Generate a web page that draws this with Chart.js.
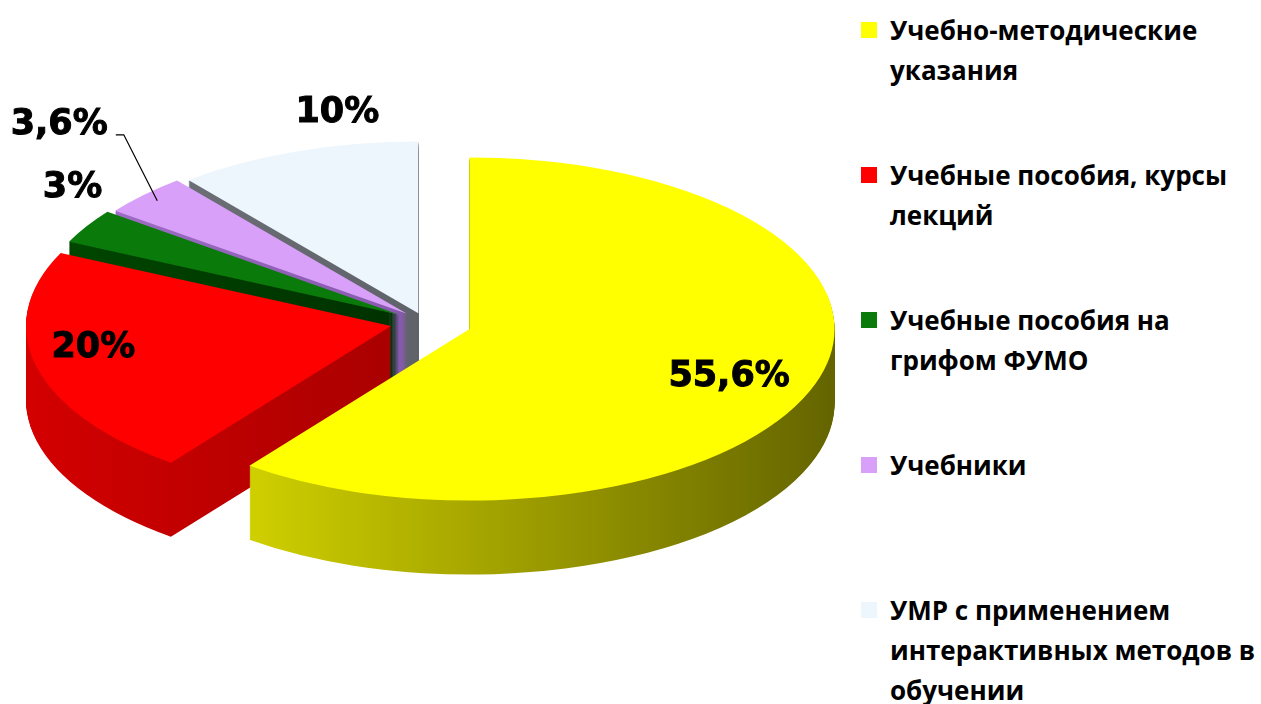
<!DOCTYPE html>
<html>
<head>
<meta charset="utf-8">
<script src="https://cdn.jsdelivr.net/npm/chart.js@4/dist/chart.umd.min.js"></script>
<style>
  html, body { margin: 0; padding: 0; background: #fff; width: 1261px; height: 704px; overflow: hidden; }
  #wrap { position: absolute; left: 0; top: 0; width: 850px; height: 704px; }
  #legend { position: absolute; left: 860px; top: 0; width: 400px; margin: 0; padding: 0; list-style: none;
            font-family: "Open Sans", sans-serif; font-weight: 700; font-size: 26px; line-height: 40px; color: #000; }
  #legend li { position: absolute; left: 0; padding-left: 30px; width: 380px; }
  #legend span { position: absolute; left: 1px; top: 12px; width: 16px; height: 16px; }
</style>
</head>
<body>
<div id="wrap"><canvas id="chart" width="850" height="704"></canvas></div>
<ul id="legend"></ul>
<script>
// данные
const labels = [
  'Учебно-методические указания',
  'Учебные пособия, курсы лекций',
  'Учебные пособия на грифом ФУМО',
  'Учебники',
  'УМР с применением интерактивных методов в обучении'
];
const values = [55.6, 20, 3, 3.6, 10];

// цвета: верх среза и боковая стенка (слева -> справа)
const topColors = ['#ffff00', '#ff0000', '#0a7a0a', '#d8a0f8', '#eef6fd'];
const sideLeft  = ['#f0f000', '#d80000', '#004a00', '#a474cc', '#74787e'];
const sideRight = ['#5c5c00', '#7a0000', '#001800', '#6a3c90', '#4a4e54'];

// вид "3D": наклон, толщина, вынос срезов
const tilt = 0.47;
const depth = 74;
const explode = [47, 35, 30, 25, 20];

// подписи: доля радиуса + сдвиг в px
const labelRadius = [0.75, 0.84, 1.0, 0.95, 1.0];
const labelShift = [[0, 7], [0, -13], [-14, -38], [-98, -76], [41, -39]];

const valueText = values.map(v => String(v).replace('.', ',') + '%');

// точка на срезе (с учётом выноса и наклона)
function slicePoint(arc, i, f) {
  const mid = (arc.startAngle + arc.endAngle) / 2;
  const r = f * arc.outerRadius + explode[i];
  return { x: arc.x + Math.cos(mid) * r, y: arc.y + tilt * Math.sin(mid) * r };
}

const pie3d = {
  id: 'pie3d',
  beforeDatasetsDraw(chart) {
    const ctx = chart.ctx;
    const arcs = chart.getDatasetMeta(0).data;
    const cx = arcs[0].x, cy = arcs[0].y;
    const grads = sideLeft.map((c, i) => {
      const g = ctx.createLinearGradient(cx - 400, 0, cx + 410, 0);
      g.addColorStop(0, c);
      g.addColorStop(1, sideRight[i]);
      return g;
    });
    const paint = (arc, i, drop, fill) => {
      const mid = (arc.startAngle + arc.endAngle) / 2;
      const fake = Object.create(arc);                 // копия элемента с другой заливкой
      fake.options = Object.assign({}, arc.options, { backgroundColor: fill, borderWidth: 0, offset: 0 });
      ctx.save();
      ctx.translate(cx, cy + drop);
      ctx.scale(1, tilt);
      ctx.translate(-cx, -cy);
      ctx.translate(Math.cos(mid) * explode[i], Math.sin(mid) * explode[i]);
      fake.draw(ctx);
      ctx.restore();
    };
    for (let d = depth; d > 0; d--) arcs.forEach((a, i) => paint(a, i, d, grads[i]));
    arcs.forEach((a, i) => paint(a, i, 0, topColors[i]));
    return false;
  }
};

const sliceLabels = {
  id: 'sliceLabels',
  afterDraw(chart) {
    const ctx = chart.ctx;
    const arcs = chart.getDatasetMeta(0).data;
    ctx.save();
    ctx.font = 'bold 35px "DejaVu Sans"';
    ctx.fillStyle = '#000';
    ctx.strokeStyle = '#000';
    ctx.lineWidth = 1;
    ctx.textAlign = 'center';
    ctx.textBaseline = 'middle';
    arcs.forEach((arc, i) => {
      const a = slicePoint(arc, i, labelRadius[i]);
      const x = a.x + labelShift[i][0], y = a.y + labelShift[i][1];
      ctx.fillText(valueText[i], x, y);
      ctx.strokeText(valueText[i], x, y);
      if (i === 3) {                                   // выноска для "Учебники"
        const w = ctx.measureText(valueText[i]).width;
        ctx.lineWidth = 1.2;
        ctx.beginPath();
        ctx.moveTo(x + w / 2 + 8, y + 10);
        ctx.lineTo(x + w / 2 + 16, y + 10);
        ctx.lineTo(a.x, a.y);
        ctx.stroke();
        ctx.lineWidth = 1;
      }
    });
    ctx.restore();
  }
};

new Chart(document.getElementById('chart'), {
  type: 'pie',
  data: {
    labels,
    datasets: [{ data: values, backgroundColor: topColors, borderWidth: 0 }]
  },
  options: {
    responsive: false,
    animation: false,
    radius: 365,
    layout: { padding: { top: 0, bottom: 60, left: 0, right: 0 } },
    plugins: { legend: { display: false }, tooltip: { enabled: false } }
  },
  plugins: [pie3d, sliceLabels]
});

// легенда справа
const legendEl = document.getElementById('legend');
const legendTop = [10, 155, 300, 445, 590];
legendEl.innerHTML = labels.map((lab, i) =>
  `<li style="top:${legendTop[i]}px"><span style="background:${topColors[i]}"></span>${lab}</li>`
).join('');
</script>
</body>
</html>
